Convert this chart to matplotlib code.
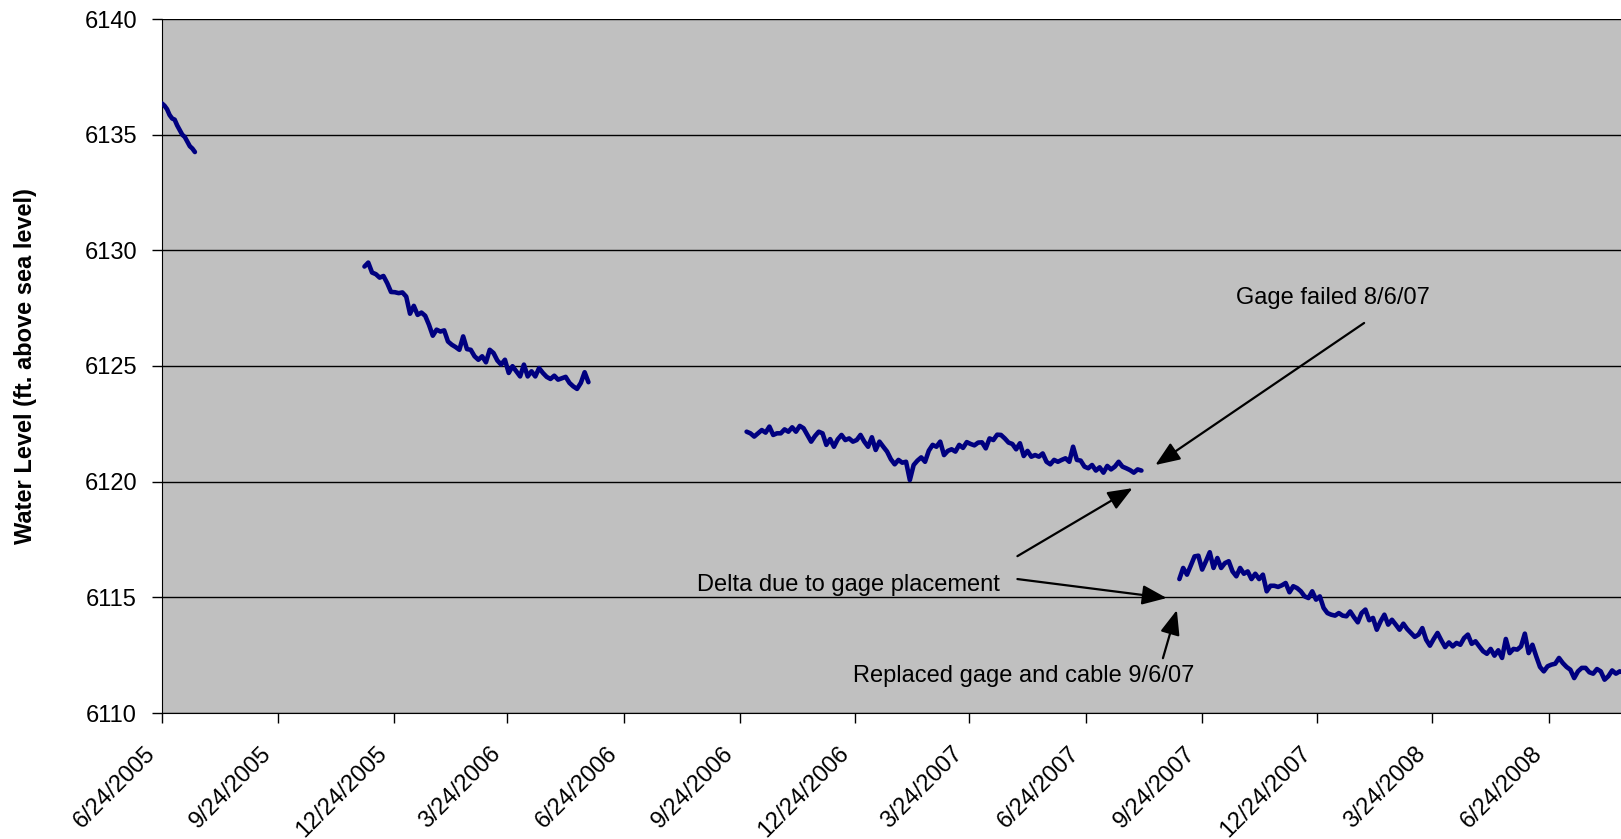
import numpy as np
import pandas as pd
import matplotlib
matplotlib.use("Agg")
import matplotlib.pyplot as plt
import matplotlib.transforms as mtransforms

plt.rcParams['font.family'] = ['Liberation Sans', 'DejaVu Sans']

# water level record, one list per logging period (fixed day step)
seg1_start, seg1_step = "2005-06-24", 2
seg1 = [6136.35, 6136.25, 6136.10, 6135.85, 6135.70, 6135.65, 6135.40,
        6135.20, 6135.00, 6134.90, 6134.70, 6134.50, 6134.40, 6134.25]

seg2_start, seg2_step = "2005-12-01", 3
seg2 = [6129.30, 6129.47, 6129.04, 6128.97, 6128.82, 6128.89, 6128.58, 6128.20,
        6128.19, 6128.15, 6128.18, 6128.00, 6127.26, 6127.60, 6127.21, 6127.31,
        6127.17, 6126.78, 6126.31, 6126.57, 6126.49, 6126.54, 6126.06, 6125.92,
        6125.82, 6125.70, 6126.28, 6125.73, 6125.70, 6125.42, 6125.27, 6125.42,
        6125.16, 6125.70, 6125.56, 6125.24, 6125.06, 6125.27, 6124.70, 6124.99,
        6124.77, 6124.55, 6125.06, 6124.55, 6124.77, 6124.55, 6124.91, 6124.70,
        6124.53, 6124.44, 6124.58, 6124.41, 6124.47, 6124.53, 6124.27, 6124.12,
        6124.01, 6124.27, 6124.73, 6124.30]

seg3_start, seg3_step = "2006-09-29", 3
seg3 = [6122.16, 6122.09, 6121.95, 6122.09, 6122.23, 6122.12, 6122.38, 6122.02,
        6122.09, 6122.09, 6122.26, 6122.16, 6122.35, 6122.16, 6122.41, 6122.31,
        6122.02, 6121.73, 6121.97, 6122.16, 6122.09, 6121.59, 6121.84, 6121.51,
        6121.83, 6122.02, 6121.80, 6121.87, 6121.73, 6121.80, 6122.02, 6121.73,
        6121.51, 6121.92, 6121.37, 6121.73, 6121.51, 6121.30, 6120.97, 6120.75,
        6120.94, 6120.82, 6120.86, 6120.07, 6120.72, 6120.91, 6121.05, 6120.86,
        6121.34, 6121.59, 6121.51, 6121.73, 6121.15, 6121.33, 6121.40, 6121.30,
        6121.59, 6121.46, 6121.71, 6121.63, 6121.57, 6121.69, 6121.70, 6121.44,
        6121.87, 6121.80, 6122.03, 6122.02, 6121.87, 6121.69, 6121.63, 6121.40,
        6121.66, 6121.11, 6121.33, 6121.08, 6121.15, 6121.08, 6121.22, 6120.86,
        6120.75, 6120.94, 6120.86, 6120.94, 6121.01, 6120.86, 6121.51, 6120.94,
        6120.91, 6120.65, 6120.58, 6120.72, 6120.48, 6120.62, 6120.39, 6120.68,
        6120.53, 6120.65, 6120.86, 6120.65, 6120.58, 6120.50, 6120.39, 6120.53,
        6120.48]

seg4_start, seg4_step = "2007-09-06", 3
seg4 = [6115.79, 6116.27, 6115.98, 6116.37, 6116.77, 6116.80, 6116.20, 6116.56,
        6116.95, 6116.27, 6116.70, 6116.27, 6116.48, 6116.56, 6116.12, 6115.91,
        6116.27, 6116.02, 6116.12, 6115.79, 6116.02, 6115.79, 6115.98, 6115.26,
        6115.50, 6115.50, 6115.45, 6115.52, 6115.62, 6115.22, 6115.48, 6115.40,
        6115.26, 6115.04, 6114.97, 6115.26, 6114.90, 6115.04, 6114.54, 6114.32,
        6114.25, 6114.21, 6114.32, 6114.21, 6114.18, 6114.39, 6114.14, 6113.92,
        6114.32, 6114.47, 6114.01, 6114.11, 6113.60, 6113.96, 6114.25, 6113.82,
        6114.03, 6113.82, 6113.60, 6113.86, 6113.63, 6113.46, 6113.29, 6113.39,
        6113.67, 6113.17, 6112.91, 6113.20, 6113.46, 6113.14, 6112.85, 6113.05,
        6112.88, 6113.03, 6112.95, 6113.24, 6113.39, 6112.99, 6113.10, 6112.88,
        6112.67, 6112.56, 6112.77, 6112.48, 6112.71, 6112.38, 6113.20, 6112.59,
        6112.77, 6112.74, 6112.88, 6113.43, 6112.59, 6112.95, 6112.45, 6111.99,
        6111.80, 6112.02, 6112.09, 6112.13, 6112.38, 6112.16, 6111.99, 6111.87,
        6111.51, 6111.80, 6111.95, 6111.95, 6111.76, 6111.70, 6111.90, 6111.80,
        6111.44, 6111.59, 6111.84, 6111.70, 6111.80, 6111.75]

tick_dates = ["2005-06-24", "2005-09-24", "2005-12-24", "2006-03-24", "2006-06-24",
              "2006-09-24", "2006-12-24", "2007-03-24", "2007-06-24", "2007-09-24",
              "2007-12-24", "2008-03-24", "2008-06-24"]
tick_labels = ["6/24/2005", "9/24/2005", "12/24/2005", "3/24/2006", "6/24/2006",
               "9/24/2006", "12/24/2006", "3/24/2007", "6/24/2007", "9/24/2007",
               "12/24/2007", "3/24/2008", "6/24/2008"]
y_ticks = [6110, 6115, 6120, 6125, 6130, 6135, 6140]

# notes: text, text anchor (date, level), arrows (tail, head)
notes = [
    ("Gage failed 8/6/07", ("2008-01-05", 6127.94), "center",
     [(("2008-01-30", 6126.86), ("2007-08-18", 6120.72))]),
    ("Delta due to gage placement", ("2006-08-21", 6115.53), "left",
     [(("2007-05-01", 6116.78), ("2007-07-31", 6119.72)),
      (("2007-05-01", 6115.79), ("2007-08-27", 6114.97))]),
    ("Replaced gage and cable 9/6/07", ("2006-12-22", 6111.60), "left",
     [(("2007-08-24", 6112.37), ("2007-09-04", 6114.45))]),
]

fig = plt.figure(figsize=(16.21, 8.39), dpi=100)
ax = fig.add_axes([162 / 1621, 1 - 713 / 839, 1459 / 1621, 694 / 839])
ax.set_facecolor("#c0c0c0")

for start, step, vals in [(seg1_start, seg1_step, seg1), (seg2_start, seg2_step, seg2),
                          (seg3_start, seg3_step, seg3), (seg4_start, seg4_step, seg4)]:
    dates = pd.date_range(start, periods=len(vals), freq=f"{step}D")
    ax.plot(dates, vals, color="#000080", lw=3.3, solid_capstyle="round",
            solid_joinstyle="round", zorder=3)

ax.set_xlim(pd.Timestamp("2005-06-24"), pd.Timestamp("2008-08-20"))
ax.set_ylim(6110, 6140)
ax.set_yticks(y_ticks)
ax.set_xticks(pd.to_datetime(tick_dates))
ax.set_xticklabels(tick_labels, rotation=45, ha="right", va="center",
                   rotation_mode="anchor")
ax.yaxis.grid(True, color="#000000", lw=1.0)
ax.set_axisbelow(True)

for s in ["top", "right"]:
    ax.spines[s].set_visible(False)
ax.spines["left"].set_color("#000000")
ax.spines["bottom"].set_color("#000000")
ax.tick_params(axis="y", direction="out", length=7, width=1, pad=11, labelsize=17)
ax.tick_params(axis="x", direction="out", length=7, width=1, pad=16, labelsize=17)

# nudge the slanted date labels left/down like the original
shift = mtransforms.ScaledTranslation(-10 / 100, -5 / 100, fig.dpi_scale_trans)
for lbl in ax.get_xticklabels():
    lbl.set_transform(lbl.get_transform() + shift)

ax.set_ylabel("Water Level (ft. above sea level)", fontsize=17, fontweight="bold")
ax.yaxis.set_label_coords(-0.0857, 0.5)

for text, (tx, ty), ha, arrows in notes:
    ax.text(pd.Timestamp(tx), ty, text, fontsize=17, ha=ha, va="center", zorder=5)
    for (ax0, ay0), (ax1, ay1) in arrows:
        ax.annotate("", xy=(pd.Timestamp(ax1), ay1), xytext=(pd.Timestamp(ax0), ay0),
                    arrowprops=dict(arrowstyle="-|>,head_length=0.75,head_width=0.3",
                                    color="black", lw=1.6, shrinkA=0, shrinkB=0,
                                    mutation_scale=20),
                    zorder=5)

fig.savefig("out.png", dpi=100)
